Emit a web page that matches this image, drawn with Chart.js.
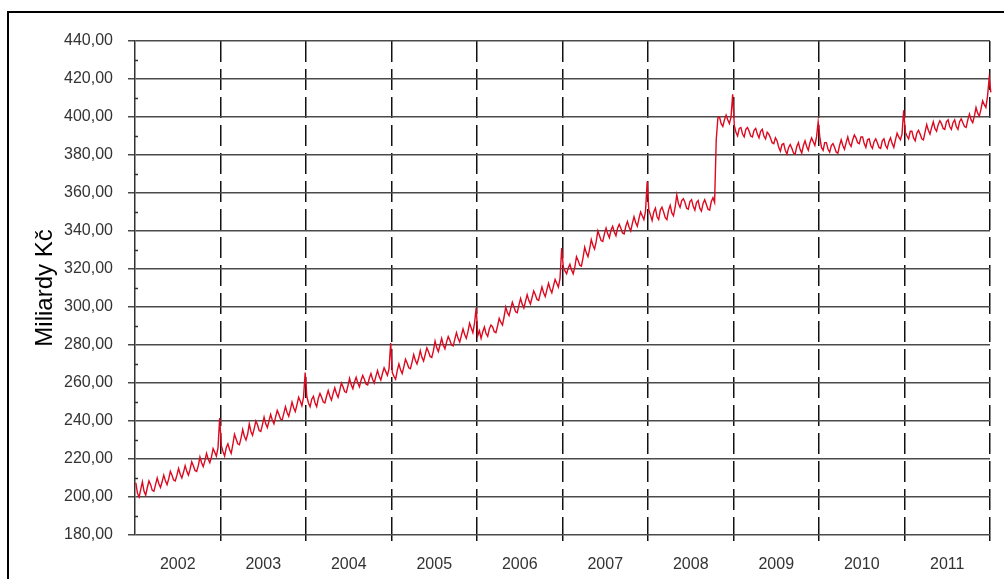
<!DOCTYPE html>
<html>
<head>
<meta charset="utf-8">
<script src="https://cdn.jsdelivr.net/npm/chart.js@4.4.1/dist/chart.umd.min.js"></script>
<style>
  html, body { margin: 0; padding: 0; background: #fff; overflow: hidden; }
  #frame { position: absolute; left: 7px; top: 11px; width: 1020px; height: 600px; border: 2px solid #000; }
  #wrap { position: absolute; left: 0; top: 0; width: 1004px; height: 579px; }
</style>
</head>
<body>
<div id="frame"></div>
<div id="wrap"><canvas id="c" width="1004" height="579"></canvas></div>
<script>
// Weekly currency in circulation, billions CZK (52 weeks per year)
const years = [2002, 2003, 2004, 2005, 2006, 2007, 2008, 2009, 2010, 2011];
const yearLabels = ['2002', '2003', '2004', '2005', '2006', '2007', '2008', '2009', '2010', '2011'];

const w2002 = [207.5,202,200,204, 208,203,201,205, 208.5,206.5,203.5,203,206.5, 210,207,205,208, 211.5,208.5,206.5,209.5, 213.5,211.5,209,208.5,211.5, 215,212,210,213, 216.5,213.5,211.5,214.5, 218.5,216.5,214,213.5,216.5, 221,218,216,219, 223,220,218,221, 225.5,223.5,221.5,226,241.5];
const w2003 = [227,224,221.5,226, 228,225,223,227.5, 233,230.5,228,227.5,231, 235.5,232,230,233, 238.5,234.5,232.5,236, 240,238,235,234.5,238, 242,238.5,236.5,240, 243.5,240.5,238.5,242, 245.5,243.5,241,240.5,244, 247.5,244.5,242.5,246, 250,247,245,248.5, 252.5,250.5,248,252.5,265.5];
const w2004 = [253,249.5,247.5,251.5, 253,249.5,247.5,252, 254.5,252.5,250,249.5,253, 256,253,251,254.5, 257.5,254.5,252.5,256, 260,258,255.5,255,258.5, 262.5,259,257,260.5, 263,260,258,261.5, 264,262,259.5,259,262.5, 265,262,260,263.5, 266.5,263.5,261.5,265, 268,266,264,267.5,281];
const w2005 = [265.5,263.5,262,266.5, 270,267,265,268.5, 272.5,270.5,268,267.5,271, 275,272,270,273, 277,273.5,271.5,275, 278.5,276.5,274,273.5,277, 282,278.5,276.5,280, 283.5,280,278,281.5, 284.5,282.5,280,279.5,283, 286.5,283.5,281.5,285, 288.5,285.5,283.5,287, 291.5,289,286.5,291.5,299.5];
const w2006 = [285,287.5,283.5,287, 289.5,286,284.5,288.5, 290.5,289.5,287,286.5,290, 294,292,290.5,295, 300,297,295.5,299, 302.5,300,297.5,297,301, 304.5,301.5,299.5,303, 306.5,303.5,301.5,305, 308.5,306.5,304,303.5,307, 310.5,307.5,305.5,309, 312.5,309.5,307.5,311, 314.5,312.5,310.5,315,331];
const w2007 = [321,319,317.5,320.5, 322.5,319.5,317.5,321, 326.5,324.5,322,321.5,326, 331.5,328.5,326.5,330.5, 335.5,332.5,330.5,334.5, 340,337.5,335,334.5,338.5, 341.5,338.5,336.5,340.5, 342.5,339.5,337.5,341.5, 343.5,341.5,339,338.5,342.5, 345,342,340,344, 347.5,344.5,342.5,346.5, 350,348,346,350.5,366];
const w2008 = [351,348.5,345.5,350, 352,347.5,346,351, 352.5,350,347,346,351, 353.5,349.5,348,352.5, 359,354.5,352.5,356, 357,355,352,351.5,355.5, 356.5,353,351,355, 356,352,350.5,354.5, 356.5,354,351.5,351,355.5, 357.5,355,388,399.5, 400,396.5,395,398.5, 401,398.5,396.5,400,412];
const w2009 = [395.5,392,390,394, 394.5,391,389.5,393.5, 394.5,392.5,390,389.5,393, 394,391,389,392.5, 393.5,390,388.5,392, 391,389,386.5,386,389, 387.5,384,382,385.5, 386,382.5,380.5,384, 385.5,383.5,381,380.5,384.5, 386.5,383,381,385, 387.5,384.5,382.5,386.5, 389,387,385,389.5,397.5];
const w2010 = [389.5,384,382.5,386.5, 386.5,383,381.5,385, 386,384,381.5,381,385, 388,385,383,386.5, 389.5,386,384.5,388, 390.5,389,386.5,386,389.5, 389.5,386,384,388, 388.5,385,383.5,387, 388.5,386.5,384,383.5,387.5, 388.5,385,383.5,387, 389,386,384,388, 391.5,389.5,388,391,403.5];
const w2011 = [392,390,388.5,392.5, 392.5,389,387.5,391.5, 393,391,388.5,388,392, 396,393,391,394.5, 397.5,394,392.5,396, 398,396.5,394,393.5,397.5, 398.5,395,393.5,397, 398.5,395,393.5,397.5, 399,397,395,394.5,398.5, 401.5,398.5,397,400.5, 405,402,400.5,404, 408.5,406.5,405,411,420.5];
const w2012 = [413];

const weeklyByYear = [w2002, w2003, w2004, w2005, w2006, w2007, w2008, w2009, w2010, w2011];

// place each weekly value at its date, expressed as a fractional year
const points = [];
weeklyByYear.forEach((arr, k) => {
  arr.forEach((v, i) => points.push({ x: years[k] + (i + 0.5) / 52, y: v }));
});
w2012.forEach((v, i) => points.push({ x: 2012 + (i + 0.5) / 52, y: v }));

const FONT = "'Liberation Sans', Arial, sans-serif";

// small minor tick marks on the inner side of the value axis
const minorTicks = {
  id: 'minorTicks',
  afterDatasetsDraw(chart) {
    const ys = chart.scales.y;
    const ctx = chart.ctx;
    ctx.save();
    ctx.strokeStyle = '#333';
    ctx.lineWidth = 1.5;
    for (let v = ys.min + 10; v < ys.max; v += 20) {
      const py = Math.round(ys.getPixelForValue(v)) + 0.5;
      ctx.beginPath();
      ctx.moveTo(ys.right, py);
      ctx.lineTo(ys.right + 3, py);
      ctx.stroke();
    }
    ctx.restore();
  }
};

new Chart(document.getElementById('c'), {
  type: 'line',
  data: {
    datasets: [{
      data: points,
      borderColor: '#dc0a20',
      borderWidth: 1.4,
      pointRadius: 0,
      tension: 0,
      clip: { left: 0, top: 0, right: 3, bottom: 0 }
    }]
  },
  options: {
    responsive: false,
    animation: false,
    events: [],
    layout: { padding: { top: 41, right: 7, left: 0, bottom: 0 } },
    plugins: { legend: { display: false }, tooltip: { enabled: false } },
    scales: {
      x: {
        type: 'linear',
        min: years[0],
        max: years[years.length - 1] + 1,
        afterBuildTicks: (s) => {
          const t = [];
          years.forEach((y) => { t.push({ value: y }); t.push({ value: y + 0.5 }); });
          t.push({ value: years[years.length - 1] + 1 });
          s.ticks = t;
        },
        afterFit: (s) => { s.height = 44; },
        grid: {
          color: (c) => (c.tick && c.tick.value % 1 === 0 && c.tick.value !== years[0]) ? '#111' : 'rgba(0,0,0,0)',
          lineWidth: 1.5,
          tickLength: 6
        },
        border: { display: false, dash: [21, 7] },
        ticks: {
          autoSkip: false,
          maxRotation: 0,
          padding: 14,
          color: '#333',
          font: { family: FONT, size: 16 },
          callback: (v) => {
            if (v % 1 === 0) return '';
            const idx = years.indexOf(Math.floor(v));
            return idx >= 0 ? yearLabels[idx] : '';
          }
        }
      },
      y: {
        min: 180,
        max: 440,
        afterFit: (s) => { s.width = 135; },
        grid: { color: '#4a4a4a', lineWidth: 1.5, tickLength: 7 },
        border: { color: '#333', width: 1.5 },
        ticks: {
          stepSize: 20,
          padding: 15,
          color: '#333',
          font: { family: FONT, size: 16 },
          callback: (v) => v.toFixed(2).replace('.', ',')
        },
        title: {
          display: true,
          text: 'Miliardy Kč',
          color: '#000',
          font: { family: FONT, size: 24 },
          padding: { top: 31, bottom: 0 }
        }
      }
    }
  },
  plugins: [minorTicks]
});
</script>
</body>
</html>
